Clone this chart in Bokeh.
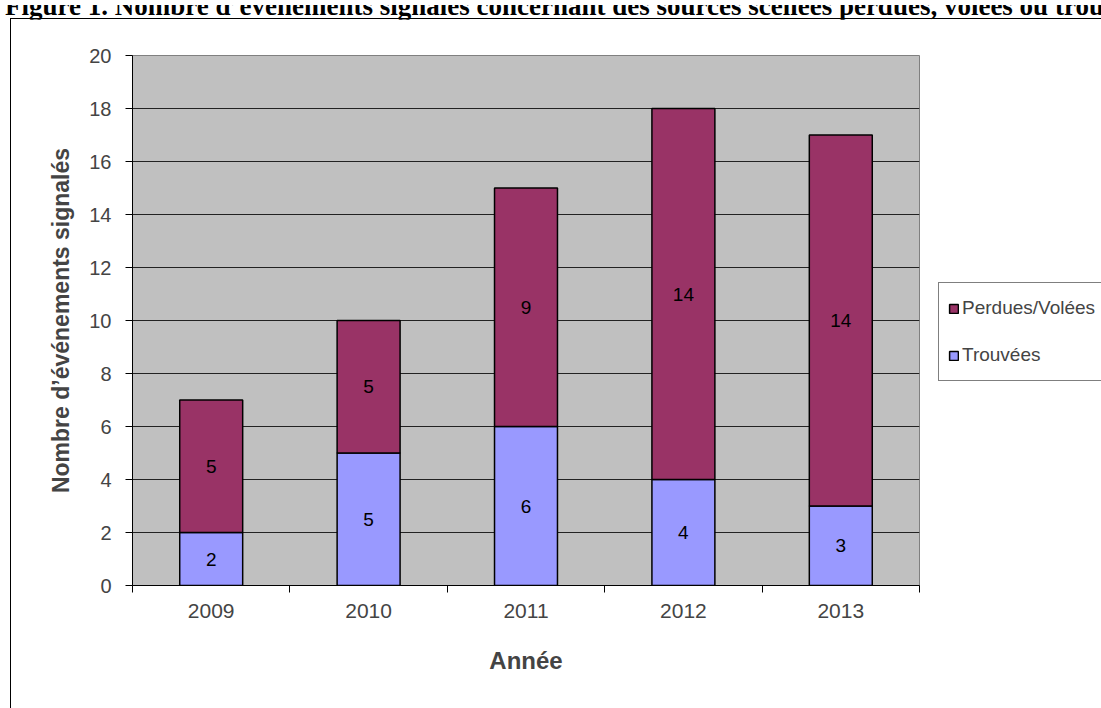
from bokeh.plotting import figure
from bokeh.models import (ColumnDataSource, FixedTicker, Legend, LegendItem,
                          Range1d, LabelSet, Div)
from bokeh.layouts import column
from bokeh.core.properties import value
from bokeh.embed import file_html
from bokeh.resources import INLINE

years = ["2009", "2010", "2011", "2012", "2013"]
trouvees = [2, 5, 6, 4, 3]
perdues = [5, 5, 9, 14, 14]
y_ticks = [0, 2, 4, 6, 8, 10, 12, 14, 16, 18, 20]

title_text = ("Figure 1. Nombre d\u2019\u00e9v\u00e9nements signal\u00e9s concernant des sources "
              "scell\u00e9es perdues, vol\u00e9es ou trouv\u00e9es")

xs = [i + 0.5 for i in range(len(years))]
src = ColumnDataSource(dict(
    x=xs, years=years, trouvees=trouvees, perdues=perdues,
    t_mid=[t / 2 for t in trouvees],
    p_mid=[t + p / 2 for t, p in zip(trouvees, perdues)],
    t_lab=[str(t) for t in trouvees],
    p_lab=[str(p) for p in perdues],
))

FONT = "Liberation Sans"

p = figure(width=1090, height=689, output_backend="svg", toolbar_location=None,
           x_range=Range1d(0, len(years)), y_range=Range1d(0, 20),
           min_border_left=121, min_border_right=183, min_border_top=36, min_border_bottom=124,
           frame_width=786, frame_height=529)
p.styles = {"margin-left": "10px", "margin-top": "-10px", "border-left": "1px solid black",
            "border-top": "1px solid black"}
p.background_fill_color = "#C0C0C0"
p.border_fill_color = "white"
p.outline_line_color = "#808080"
p.outline_line_width = 1

renderers = p.vbar_stack(["trouvees", "perdues"], x="x", width=0.4, source=src,
                         color=["#9999FF", "#993366"], line_color="black", line_width=1.5)

for col_y, col_t in (("t_mid", "t_lab"), ("p_mid", "p_lab")):
    p.add_layout(LabelSet(x="x", y=col_y, text=col_t, source=src, text_align="center",
                          text_baseline="middle", text_font=value(FONT),
                          text_font_size=value("19px"), text_color="black"))

# grid
p.xgrid.visible = False
p.ygrid.ticker = FixedTicker(ticks=y_ticks)
p.ygrid.grid_line_color = "#222222"
p.ygrid.grid_line_width = 1

# y axis
p.yaxis.ticker = FixedTicker(ticks=y_ticks)
p.yaxis.axis_label = "Nombre d\u2019\u00e9v\u00e9nements signal\u00e9s"
p.yaxis.axis_label_text_font = FONT
p.yaxis.axis_label_text_font_style = "bold"
p.yaxis.axis_label_text_font_size = "23px"
p.yaxis.axis_label_standoff = 12
p.yaxis.major_label_text_font = FONT
p.yaxis.major_label_text_font_size = "20px"
p.yaxis.major_label_standoff = 14
p.yaxis.major_tick_in = 0
p.yaxis.major_tick_out = 7
p.yaxis.minor_tick_line_color = None
p.yaxis.axis_line_color = "black"

# x axis
p.xaxis.ticker = FixedTicker(ticks=xs, minor_ticks=list(range(len(years) + 1)))
p.xaxis.major_label_overrides = {x: y for x, y in zip(xs, years)}
p.xaxis.major_tick_line_color = None
p.xaxis.minor_tick_in = 0
p.xaxis.minor_tick_out = 7
p.xaxis.minor_tick_line_color = "black"
p.xaxis.major_label_text_font = FONT
p.xaxis.major_label_text_font_size = "21px"
p.xaxis.major_label_standoff = 11
p.xaxis.axis_label = "Ann\u00e9e"
p.xaxis.axis_label_text_font = FONT
p.xaxis.axis_label_text_font_style = "bold"
p.xaxis.axis_label_text_font_size = "24px"
p.xaxis.axis_label_standoff = 26
p.xaxis.axis_line_color = "black"

# legend (right side panel)
legend = Legend(items=[LegendItem(label="Perdues/Vol\u00e9es", renderers=[renderers[1]]),
                       LegendItem(label="Trouv\u00e9es", renderers=[renderers[0]])],
                location=(19, 204), orientation="vertical",
                label_text_font=FONT, label_text_font_size="19px",
                glyph_width=11, glyph_height=11, label_standoff=3,
                label_width=150, label_height=32,
                spacing=15, padding=9, margin=0,
                border_line_color="black", border_line_width=1,
                background_fill_color="white", background_fill_alpha=1)
p.add_layout(legend, "right")

title_div = Div(
    text=('<div style="position:relative; top:-12px; white-space:nowrap; '
          'font-family:\'Liberation Serif\'; font-weight:bold; font-size:27px; '
          'line-height:27px;">' + title_text + '</div>'),
    width=1101, height=18, styles={"overflow": "hidden"})

layout = column(title_div, p, spacing=0)

open("out.html", "w").write(file_html(layout, INLINE))
